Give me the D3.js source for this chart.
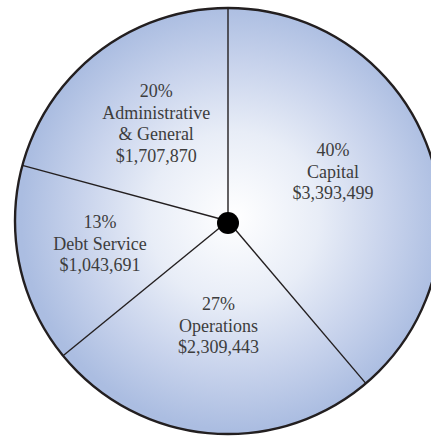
<!DOCTYPE html>
<html>
<head>
<meta charset="utf-8">
<script src="https://cdn.jsdelivr.net/npm/d3@7"></script>
<style>
  body { margin: 0; background: #fff; }
  svg { display: block; }
</style>
</head>
<body>
<main></main>
<script>
// data (clockwise from 12 o'clock)
const categories = ['Capital', 'Operations', 'Debt Service', 'Administrative\n& General'];
const percents = ['40%', '27%', '13%', '20%'];
const amounts = ['$3,393,499', '$2,309,443', '$1,043,691', '$1,707,870'];
// slice sizes as drawn in the picture (share of the circle, %)
const sliceShares = [38.8, 25.3, 15.1, 20.8];

// layout
const [w, h] = [431, 437];
const cx = 228, cy = 221, radio = 213;
const labelRadius = [116, 105, 130, 121];   // distance of each label from the centre
const labelTurn = [-5, 0, 2, 1];            // small angle nudges, degrees
const lineH = 21.5;

const svg = d3.select('main')
    .append('svg')
    .attr('width', w)
    .attr('height', h);

// radial gradient white -> periwinkle (coords relative to the pie group)
const grad = svg.append('defs')
    .append('radialGradient')
    .attr('id', 'fondo')
    .attr('gradientUnits', 'userSpaceOnUse')
    .attr('cx', 6).attr('cy', -4)
    .attr('r', radio);

grad.append('stop').attr('offset', '0%').attr('stop-color', '#ffffff');
grad.append('stop').attr('offset', '40%').attr('stop-color', '#e8edf7');
grad.append('stop').attr('offset', '72%').attr('stop-color', '#c8d3ec');
grad.append('stop').attr('offset', '100%').attr('stop-color', '#abbde1');

const datos = categories.map((c, i) => ({ cat: c, pct: percents[i], amt: amounts[i], v: sliceShares[i] }));

const pie = d3.pie()
    .value(d => d.v)
    .sort(null);

const arcos = pie(datos);

const arc = d3.arc()
    .innerRadius(0)
    .outerRadius(radio);

const g = svg.append('g')
    .attr('transform', 'translate(' + cx + ',' + cy + ')');

// slices
g.selectAll('path.slice')
    .data(arcos)
    .enter()
    .append('path')
    .attr('class', 'slice')
    .attr('d', arc)
    .attr('fill', 'url(#fondo)');

// separator lines
g.selectAll('line.sep')
    .data(arcos)
    .enter()
    .append('line')
    .attr('class', 'sep')
    .attr('x1', 0).attr('y1', 0)
    .attr('x2', d => radio * Math.sin(d.startAngle))
    .attr('y2', d => -radio * Math.cos(d.startAngle))
    .attr('stroke', '#231f20')
    .attr('stroke-width', 1.4);

// outer circle
g.append('circle')
    .attr('r', radio)
    .attr('fill', 'none')
    .attr('stroke', '#231f20')
    .attr('stroke-width', 2.4);

// centre dot
g.append('circle')
    .attr('cx', 0).attr('cy', 2)
    .attr('r', 11)
    .attr('fill', '#000');

// labels
arcos.forEach((d, i) => {
    const ang = (d.startAngle + d.endAngle) / 2 + labelTurn[i] * Math.PI / 180;
    const x = labelRadius[i] * Math.sin(ang);
    const y = -labelRadius[i] * Math.cos(ang);
    const lineas = [d.data.pct].concat(d.data.cat.split('\n')).concat([d.data.amt]);

    const t = g.append('text')
        .attr('text-anchor', 'middle')
        .attr('font-family', '"Liberation Serif", "Times New Roman", serif')
        .attr('font-size', 18)
        .attr('fill', '#3d3d3d');

    lineas.forEach((l, k) => {
        t.append('tspan')
            .attr('x', x)
            .attr('y', y + (k - (lineas.length - 1) / 2) * lineH + 6)
            .text(l);
    });
});
</script>
</body>
</html>
